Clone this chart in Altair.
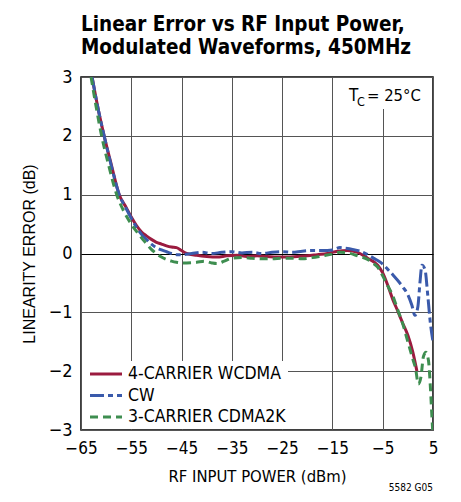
import altair as alt
import pandas as pd

NARROW = "DejaVu Sans Condensed, sans-serif"
REGULAR = "Liberation Sans, Arial, sans-serif"

series = ["4-CARRIER WCDMA", "CW", "3-CARRIER CDMA2K"]
colors = ["#9B1B3F", "#3A5AAB", "#3E8E50"]
dashes = [None, [14, 4, 5, 4], [8, 5]]

wcdma_x = [-62.8, -61.5, -60.4, -59, -57.4, -56, -55, -54, -53, -52, -51, -50, -49, -48, -47,
           -46, -45, -44, -42, -40, -38, -36, -34, -32, -30, -28, -26, -24, -22, -20, -18,
           -16, -14, -12, -10, -8, -6, -5, -4, -3, -2, -1, 0, 1, 1.8]
wcdma_y = [3.0, 2.42, 2.0, 1.52, 1.0, 0.78, 0.62, 0.48, 0.37, 0.3, 0.24, 0.19, 0.16, 0.13, 0.11,
           0.1, 0.05, 0.0, -0.03, -0.05, -0.06, -0.04, -0.03, -0.05, -0.04, -0.05, -0.06, -0.06, -0.05, -0.04, -0.02,
           0.0, 0.04, 0.05, 0.02, -0.08, -0.2, -0.33, -0.54, -0.78, -0.98, -1.19, -1.39, -1.68, -2.0]

cw_x = [-62.8, -61.5, -60.4, -59, -57.4, -56, -55, -54, -53, -52, -51, -50, -49, -48, -47,
        -46, -45, -43, -41, -39, -37, -35, -33, -31, -29, -27, -25, -23, -21, -19,
        -17, -15, -13.5, -12.5, -11, -9.5, -8, -7, -6, -5, -4, -3, -2, -1, 0,
        0.8, 1.4, 2.0, 2.4, 2.8, 3.4, 4.0, 4.5, 5.0]
cw_y = [3.0, 2.42, 2.0, 1.5, 1.0, 0.76, 0.6, 0.45, 0.33, 0.24, 0.16, 0.1, 0.06, 0.03, 0.0,
        -0.02, -0.02, 0.0, 0.02, 0.0, 0.02, 0.03, 0.01, 0.02, 0.0, 0.02, 0.03, 0.02, 0.04, 0.05,
        0.05, 0.06, 0.1, 0.09, 0.07, 0.04, -0.02, -0.07, -0.12, -0.18, -0.27, -0.36, -0.46, -0.57, -0.7,
        -0.88, -1.05, -0.9, -0.5, -0.2, -0.27, -0.75, -1.2, -1.5]

cdma_x = [-63.0, -62, -60.9, -59.5, -57.9, -56.5, -55, -54, -53, -52, -51, -50, -49, -48, -47,
          -46, -45, -44, -42, -40.5, -39, -38, -36.5, -35, -33, -31, -29, -27, -25, -23,
          -21, -19, -17, -15, -13.5, -12, -10, -8, -7, -6, -5, -4, -3, -2, -1,
          0, 1, 1.5, 2.1, 2.6, 3.1, 3.6, 4.1, 4.5, 4.8, 5.0]
cdma_y = [3.0, 2.5, 2.0, 1.5, 1.0, 0.72, 0.5, 0.38, 0.27, 0.17, 0.07, 0.0, -0.06, -0.1, -0.13,
          -0.15, -0.16, -0.16, -0.15, -0.13, -0.16, -0.17, -0.13, -0.08, -0.07, -0.08, -0.09, -0.09, -0.08, -0.08,
          -0.09, -0.07, -0.04, -0.01, 0.02, 0.01, -0.04, -0.1, -0.16, -0.23, -0.38, -0.55, -0.72, -0.96, -1.2,
          -1.5, -1.8, -1.94, -2.22, -2.1, -1.75, -1.68, -1.82, -2.3, -2.8, -3.1]

x_ticks = [-65, -55, -45, -35, -25, -15, -5, 5]
y_ticks = [-3, -2, -1, 0, 1, 2, 3]

title_lines = ["Linear Error vs RF Input Power,", "Modulated Waveforms, 450MHz"]

xs = [wcdma_x, cw_x, cdma_x]
ys = [wcdma_y, cw_y, cdma_y]

W, H = 352, 353
GRID = "#555"

x_enc = alt.X("x:Q", scale=alt.Scale(domain=[-65, 5], nice=False),
              axis=alt.Axis(values=x_ticks, title="RF INPUT POWER (dBm)",
                            labelExpr="replace(format(datum.value, 'd'), '-', '\u2212')",
                            labelFlush=False, labelPadding=10, labelOverlap=False,
                            grid=True, gridColor=GRID, gridWidth=1,
                            titleY=51, titleBaseline="alphabetic", titleFont=NARROW,
                            titleFontSize=16.5, titleFontWeight="normal"))
y_enc = alt.Y("y:Q", scale=alt.Scale(domain=[-3, 3], nice=False),
              axis=alt.Axis(values=y_ticks, title="LINEARITY ERROR (dB)",
                            labelExpr="replace(format(datum.value, 'd'), '-', '\u2212')",
                            labelAlign="right", labelPadding=9, labelBaseline="middle",
                            labelFontSize=18,
                            grid=True, gridWidth=1,
                            titleX=-47, titleBaseline="alphabetic", titleFont=REGULAR,
                            titleFontSize=16, titleFontWeight="normal",
                            gridColor={"condition": {"test": "datum.value === 0", "value": "black"},
                                       "value": GRID}))

layers = []
for i, name in enumerate(series):
    df = pd.DataFrame({"x": xs[i], "y": ys[i], "series": name})
    kw = dict(color=colors[i], strokeWidth=3, clip=True, interpolate="monotone")
    if dashes[i]:
        kw["strokeDash"] = dashes[i]
    layers.append(alt.Chart(df).mark_line(**kw).encode(x=x_enc, y=y_enc))

one = alt.Data(values=[{}])

# legend box
layers.append(alt.Chart(one).mark_rect(color="white").encode(
    x=alt.value(1), x2=alt.value(207), y=alt.value(284), y2=alt.value(352)))
for i, name in enumerate(series):
    yy = 297 + 21.5 * i
    kw = dict(color=colors[i], strokeWidth=3)
    if dashes[i]:
        kw["strokeDash"] = dashes[i]
    layers.append(alt.Chart(one).mark_rule(**kw).encode(
        x=alt.value(9), x2=alt.value(41), y=alt.value(yy)))
    layers.append(alt.Chart(pd.DataFrame({"label": [name]})).mark_text(
        align="left", baseline="middle", font=NARROW, fontSize=17.5, color="black").encode(
        x=alt.value(47), y=alt.value(yy), text="label:N"))

# T_C annotation box
layers.append(alt.Chart(one).mark_rect(color="white").encode(
    x=alt.value(259), x2=alt.value(351), y=alt.value(1), y2=alt.value(32)))
layers.append(alt.Chart(one).mark_text(text="T", align="left", baseline="alphabetic",
                                       font=NARROW, fontSize=17, color="black").encode(
    x=alt.value(268), y=alt.value(24)))
layers.append(alt.Chart(one).mark_text(text="C", align="left", baseline="alphabetic",
                                       font=NARROW, fontSize=12.5, color="black").encode(
    x=alt.value(276), y=alt.value(29)))
layers.append(alt.Chart(one).mark_text(text="= 25°C", align="left", baseline="alphabetic",
                                       font=NARROW, fontSize=16.5, color="black").encode(
    x=alt.value(286), y=alt.value(24)))

# figure code
layers.append(alt.Chart(one).mark_text(text="5582 G05", align="right", baseline="alphabetic",
                                       font=NARROW, fontSize=10, color="black").encode(
    x=alt.value(352), y=alt.value(414)))

chart = alt.layer(*layers).properties(
    width=W, height=H,
    title=alt.TitleParams(text=title_lines, anchor="start", frame="group", font=NARROW,
                          fontSize=20.5, fontWeight="bold", lineHeight=23, offset=10,
                          color="black"),
    padding={"left": 73, "top": 69, "right": 20, "bottom": 64},
    autosize=alt.AutoSizeParams(type="none"),
).configure_view(
    stroke="black", strokeWidth=1.5
).configure_axis(
    domain=False, ticks=False,
    labelFont=NARROW, labelFontSize=17, labelColor="black", titleColor="black",
)

chart.save("out.html", embed_options={"renderer": "svg", "actions": False})
